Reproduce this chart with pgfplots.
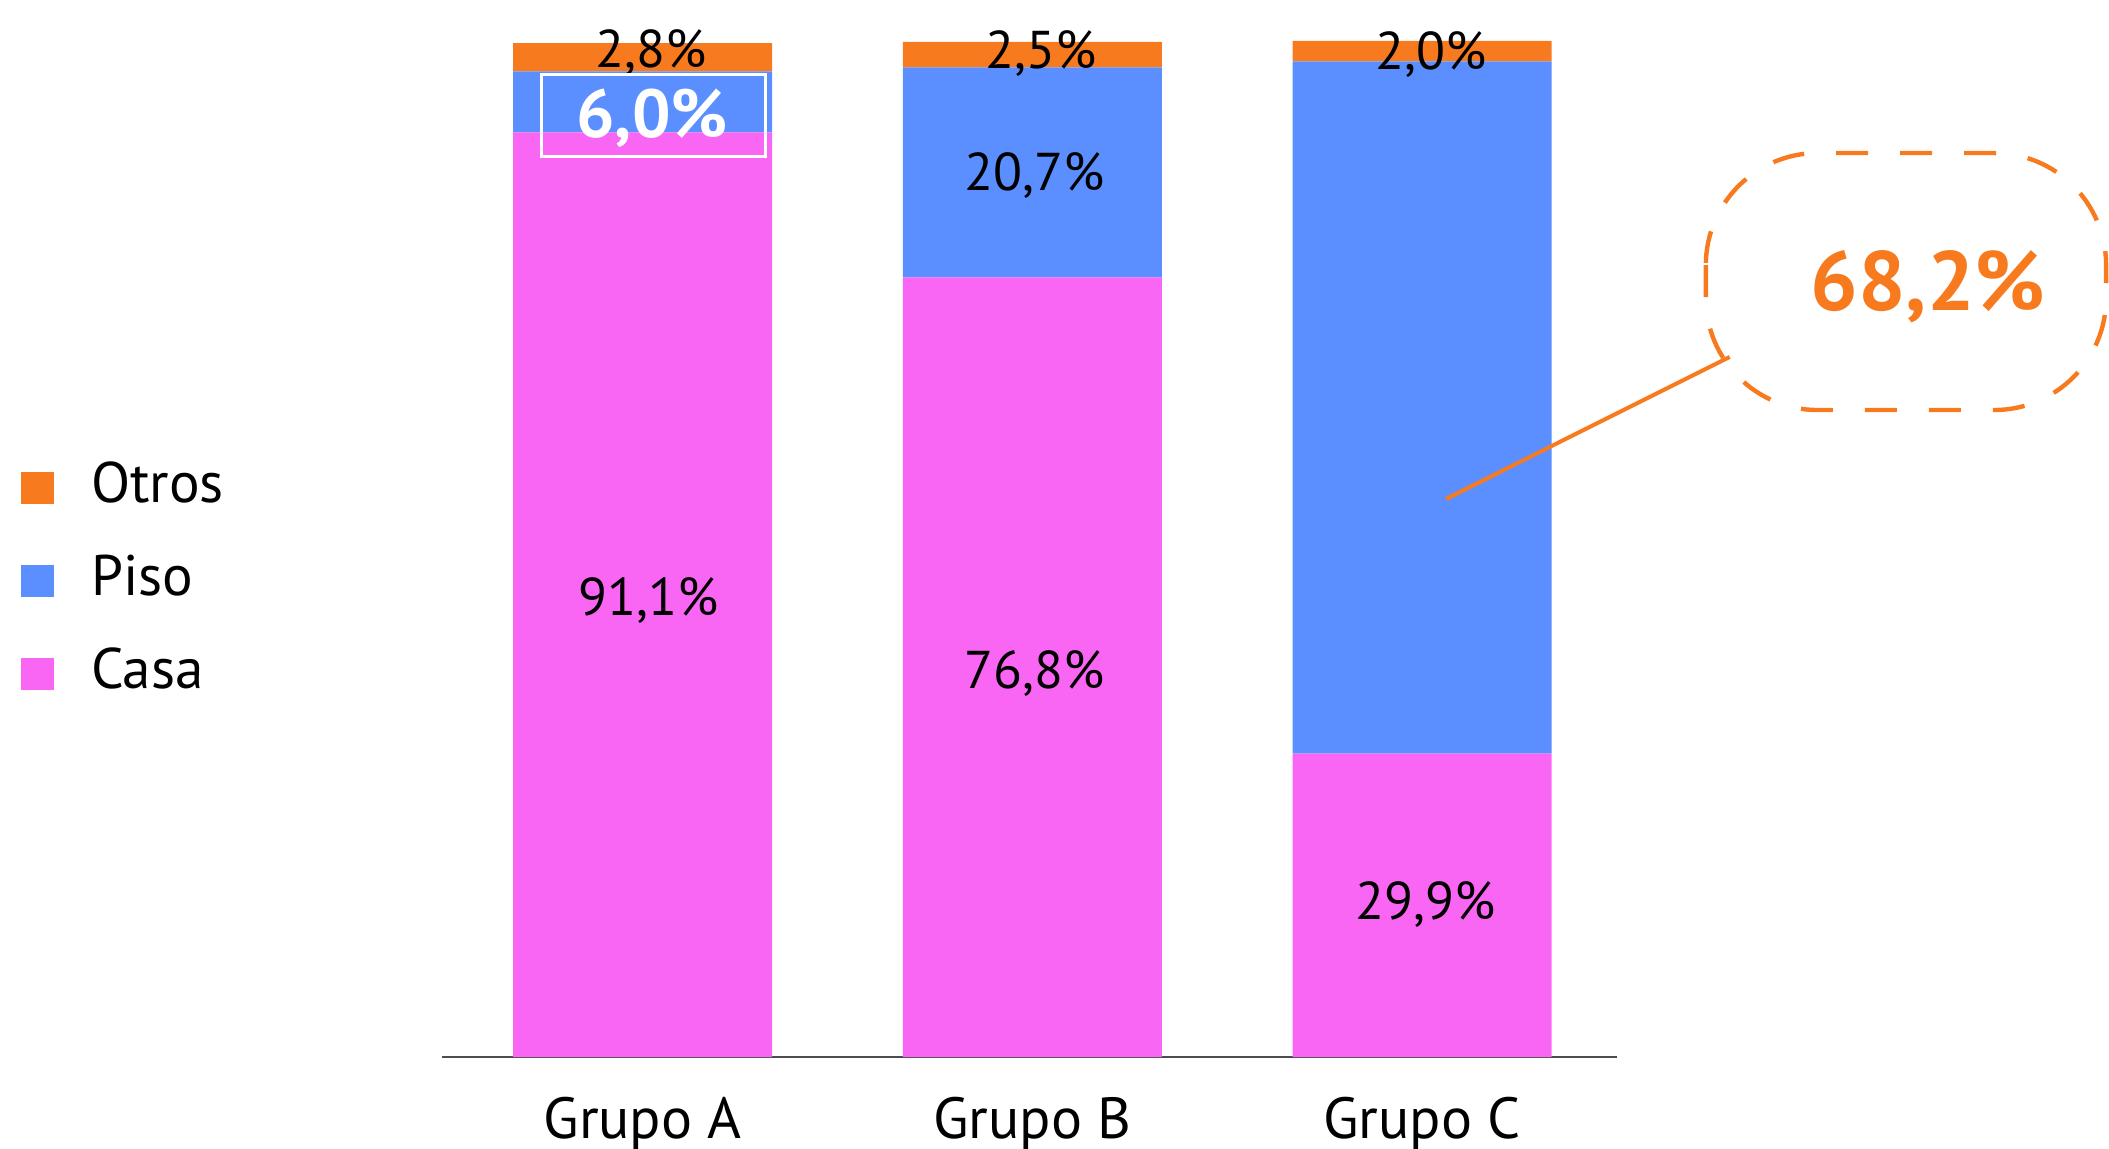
\documentclass[border=0pt]{standalone}
\usepackage{fontspec}
\setmainfont{PT Sans}
\usepackage{pgfplots}
\pgfplotsset{compat=1.18}
\definecolor{cOtros}{HTML}{F77B1E}
\definecolor{cPiso}{HTML}{5B8FFF}
\definecolor{cCasa}{HTML}{FA66F4}
\definecolor{axisgray}{HTML}{4D4D4D}
\tikzset{vlab/.style={anchor=base, inner sep=0pt, font=\fontsize{13.3}{16}\selectfont}}
\begin{document}
\begin{tikzpicture}
\path[use as bounding box] (-110.5pt,-22.75pt) rectangle (416.75pt,264.25pt);
\begin{axis}[
    scale only axis,
    width=293.75pt, height=253.75pt,
    anchor=south west, at={(0,0)},
    ybar stacked, bar width=64.75pt,
    xmin=-0.515, xmax=2.5, ymin=0, ymax=100,
    axis y line=none, axis x line*=bottom,
    x axis line style={draw=axisgray, line width=0.55pt, -},
    xtick={0,1,2}, xticklabels={Grupo A,Grupo B,Grupo C},
    major tick length=0pt,
    xticklabel style={anchor=base, yshift=-20.25pt, font=\fontsize{14.5}{17}\selectfont},
    clip=false,
    reverse legend,
    legend cell align=left,
    legend style={draw=none, fill=none, at={(-0.3591,0.595)}, anchor=north west,
        inner sep=0pt, row sep=7.6pt, column sep=7.3pt,
        font=\fontsize{14.3}{17}\selectfont},
    legend image code/.code={\fill[#1] (0pt,-4.6pt) rectangle (8.25pt,3.4pt);},
]
% Casa
\addplot[fill=cCasa, draw=none] coordinates {(0,91.1) (1,76.8) (2,29.9)};
\addlegendentry{Casa}
% Piso
\addplot[fill=cPiso, draw=none] coordinates {(0,6.0) (1,20.7) (2,68.2)};
\addlegendentry{Piso}
% Otros
\addplot[fill=cOtros, draw=none] coordinates {(0,2.8) (1,2.5) (2,2.0)};
\addlegendentry{Otros}

% anchor points for the labels, drawn after the axis so they sit on top
\coordinate (aO) at (axis cs:0.022,97.45);
\coordinate (bO) at (axis cs:1.023,97.4);
\coordinate (cO) at (axis cs:2.024,97.3);
\coordinate (bP) at (axis cs:1.006,85.4);
\coordinate (aC) at (axis cs:0.014,43.45);
\coordinate (bC) at (axis cs:1.006,36.26);
\coordinate (cC) at (axis cs:2.009,13.5);
\coordinate (aP) at (axis cs:0.024,90.6);
\coordinate (boxA1) at (axis cs:-0.26,96.8);
\coordinate (boxA2) at (axis cs:0.315,88.7);
\coordinate (ln1) at (axis cs:2.061,54.98);
\coordinate (ln2) at (axis cs:2.789,68.97);
\coordinate (co1) at (axis cs:2.728,89.06);
\coordinate (co2) at (axis cs:3.755,63.74);
\coordinate (coT) at (axis cs:3.298,73.54);
\end{axis}

\node[vlab] at (aO) {2,8\%};
\node[vlab] at (bO) {2,5\%};
\node[vlab] at (cO) {2,0\%};
\node[vlab] at (bP) {20,7\%};
\node[vlab] at (aC) {91,1\%};
\node[vlab] at (bC) {76,8\%};
\node[vlab] at (cC) {29,9\%};
\node[vlab, text=white, font=\bfseries\fontsize{17}{20}\selectfont] at (aP) {6,0\%};
\draw[white, line width=0.7pt] (boxA1) rectangle (boxA2);

% callout
\draw[cOtros, line width=1pt] (ln1) -- (ln2);
\draw[cOtros, line width=1.1pt, dash pattern=on 8pt off 8pt, rounded corners=28pt]
    (co1) rectangle (co2);
\node[anchor=base, inner sep=0pt, text=cOtros, font=\bfseries\fontsize{21}{24}\selectfont]
    at (coT) {68,2\%};
\end{tikzpicture}
\end{document}
